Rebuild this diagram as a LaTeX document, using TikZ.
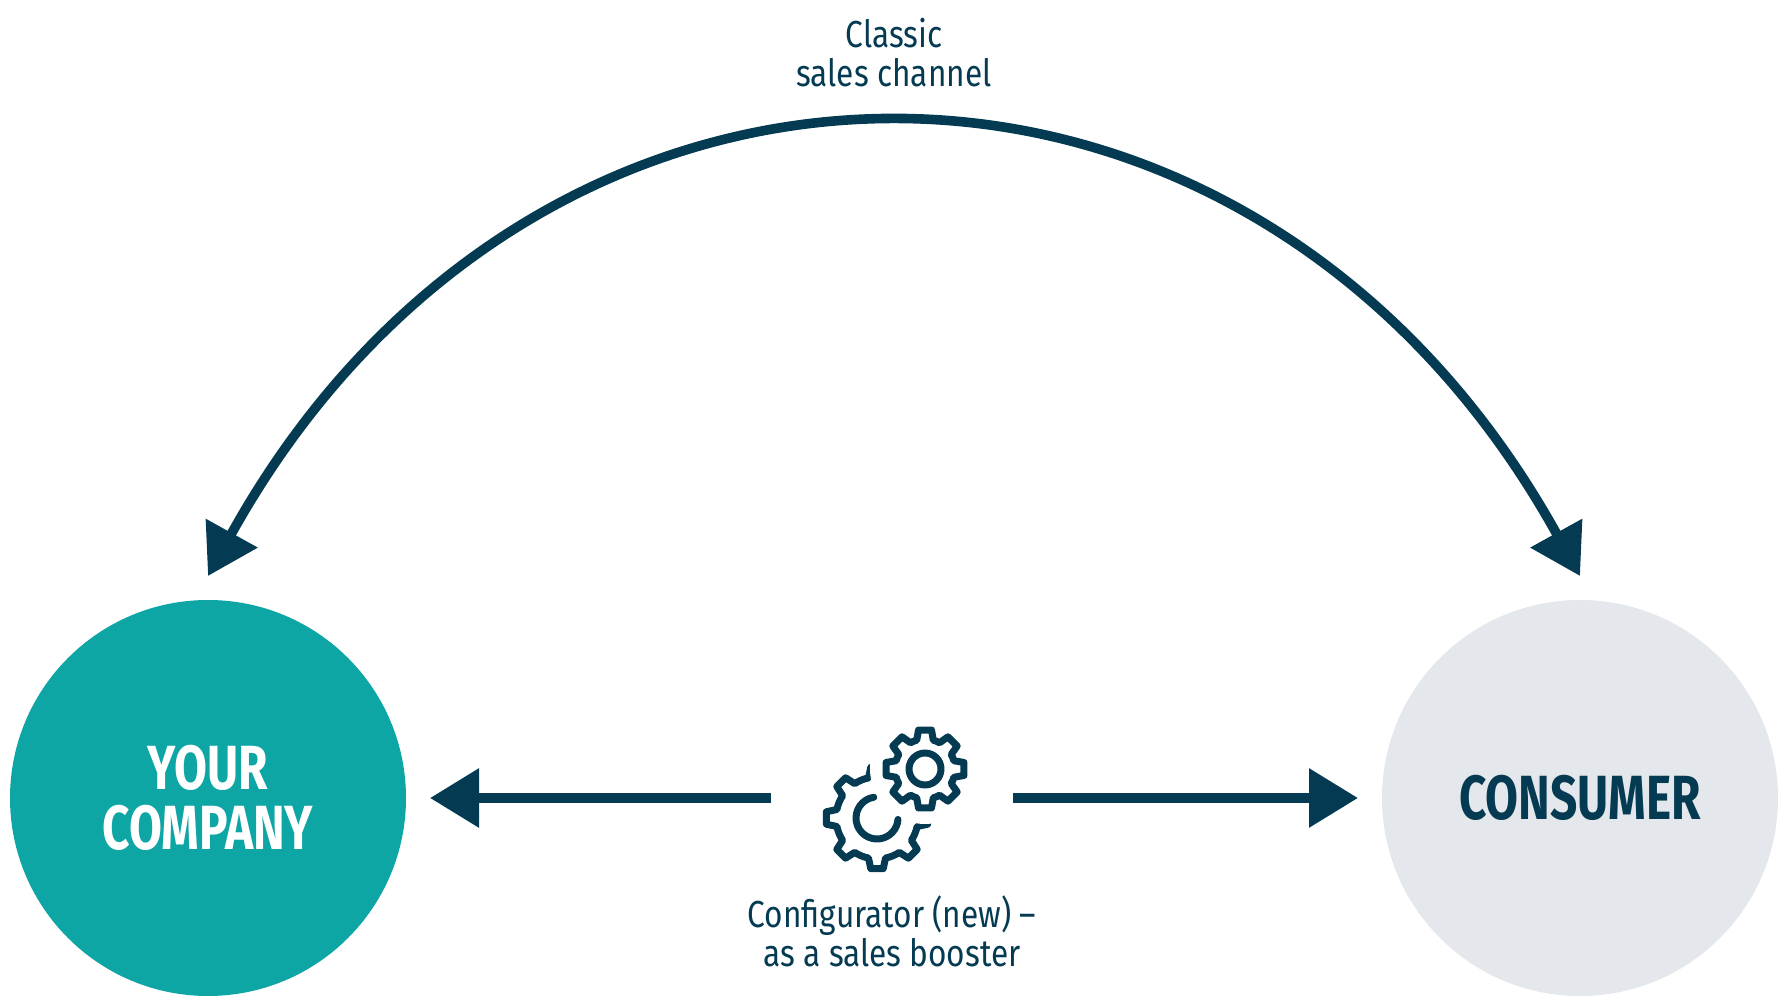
\documentclass[tikz,border=0pt]{standalone}
\usepackage{fontspec}
\usepackage{tikz}
\usetikzlibrary{arrows.meta}
\usetikzlibrary{positioning}
\setmainfont{Fira Sans}[FakeStretch=0.84]
\newfontfamily\headfont{Fira Sans}[FakeStretch=0.765]
\definecolor{mnavy}{HTML}{053B52}
\definecolor{mteal}{HTML}{0EA5A5}
\definecolor{mgrey}{HTML}{E4E8EC}
\tikzset{bubble/.style = {circle, minimum size = 99pt, inner sep = 0, outer sep = 6pt, align = center,
                          font = \headfont\bfseries\fontsize{15.6}{15}\selectfont}}
\tikzset{flow/.style = {draw = mnavy, line width = 2.4pt, -{Triangle[length = 12.25pt, width = 14.25pt]}}}
\tikzset{both/.style = {flow, {Triangle[length = 12.25pt, width = 14.25pt]}-{Triangle[length = 12.25pt, width = 14.25pt]}}}
\tikzset{note/.style = {inner sep = 0, align = center, text = mnavy,
                        font = \fontsize{9.4}{9.75}\selectfont}}
\tikzset{cogline/.style = {draw = mnavy, line width = 1.75pt, line join = round, line cap = round}}
% centre, root radius, tip radius, root half angle, tip half angle
\newcommand{\drawcog}[5]{%
  \draw [cogline, shift = {(#1)}] (-#4:#2) \foreach \a in {0, 45, ..., 315} {
      -- (\a-#5:#3) -- (\a+#5:#3) -- (\a+#4:#2)
      arc [start angle = \a+#4, end angle = \a+45-#4, radius = #2]} -- cycle;}

\begin{document}
\begin{tikzpicture}[x = 0.25pt, y = 0.25pt]
    \useasboundingbox (0, 0) rectangle (1788, 1006);
    \node [bubble, fill = mteal, text = white] (company) at (208, 208) {YOUR\\COMPANY};
    \node [bubble, fill = mgrey, text = mnavy] (consumer) at (1580, 208) {CONSUMER};
    \node [minimum width = 60pt, minimum height = 2.4pt, inner sep = 0] (gear) at (892, 208) {};
    \draw [flow] (gear.west) -- (company.east);
    \draw [flow] (gear.east) -- (consumer.west);
    \draw [both] (company.north) .. controls +(61:682) and +(119:682) ..
      node [note, above = 9.1pt] (channel) {Classic\\sales channel} (consumer.north);
    \node [note, below = 22.9pt of gear] (booster) {Configurator (new) –\\as a sales booster};
    \begin{scope}[shift = {(gear.center)}]
      \drawcog{-15, -20}{41}{51}{12}{7}
      \fill [white] (33, 29) circle [radius = 55];
      \draw [cogline] (-15, -20) ++(99:21) arc [start angle = 99, end angle = 356, radius = 21];
      \drawcog{33, 29}{30}{39.5}{16}{9.5}
      \draw [cogline] (33, 29) circle [radius = 16];
    \end{scope}
  \end{tikzpicture}
\end{document}
